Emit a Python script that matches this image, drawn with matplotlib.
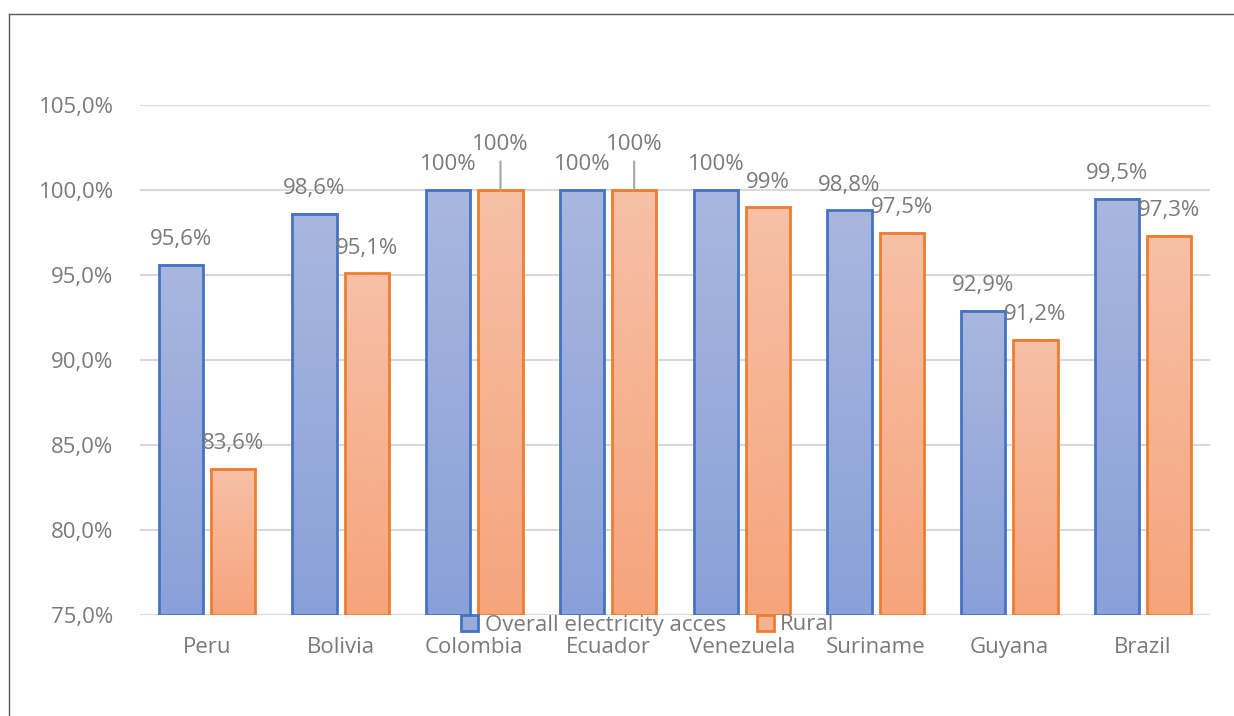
import numpy as np
import matplotlib.pyplot as plt
from matplotlib.colors import LinearSegmentedColormap
from matplotlib.patches import Patch
from matplotlib.lines import Line2D

countries = ['Peru', 'Bolivia', 'Colombia', 'Ecuador', 'Venezuela', 'Suriname', 'Guyana', 'Brazil']
overall = [95.6, 98.6, 100, 100, 100, 98.8, 92.9, 99.5]
rural = [83.6, 95.1, 100, 100, 99, 97.5, 91.2, 97.3]
overall_labels = ['95,6%', '98,6%', '100%', '100%', '100%', '98,8%', '92,9%', '99,5%']
rural_labels = ['83,6%', '95,1%', '100%', '100%', '99%', '97,5%', '91,2%', '97,3%']
yticks = [75, 80, 85, 90, 95, 100, 105]
ytick_labels = ['75,0%', '80,0%', '85,0%', '90,0%', '95,0%', '100,0%', '105,0%']

plt.rcParams['font.family'] = ['Open Sans', 'DejaVu Sans']
gray = '#7a7a7a'
fs = 16

fig = plt.figure(figsize=(12.34, 7.16), dpi=100)
ax = fig.add_axes([140/1234, 101/716, 1070/1234, 510/716])

blue_cmap = LinearSegmentedColormap.from_list('b', ['#8aa0d8', '#a9b7df'])
orange_cmap = LinearSegmentedColormap.from_list('o', ['#f6a47c', '#f6c0a7'])
grad = np.linspace(0, 1, 200).reshape(-1, 1)

x = np.arange(len(countries))
w = 0.33
off = 0.195
b1 = ax.bar(x - off, np.array(overall) - 75, w, bottom=75, facecolor='none',
            edgecolor='#4472C4', lw=2, zorder=3)
b2 = ax.bar(x + off, np.array(rural) - 75, w, bottom=75, facecolor='none',
            edgecolor='#ED7D31', lw=2, zorder=3)

for bars, cmap in [(b1, blue_cmap), (b2, orange_cmap)]:
    for r in bars:
        x0, y0, bw, bh = r.get_x(), r.get_y(), r.get_width(), r.get_height()
        ax.imshow(grad, extent=[x0, x0 + bw, y0, y0 + bh], origin='lower',
                  cmap=cmap, aspect='auto', zorder=2)

# data labels
for i in range(len(countries)):
    ax.annotate(overall_labels[i], (x[i] - off, overall[i]), xytext=(0, 25),
                textcoords='offset pixels', ha='center', va='center',
                color=gray, fontsize=fs, zorder=4)
    if countries[i] in ('Colombia', 'Ecuador'):
        ax.annotate(rural_labels[i], (x[i] + off, rural[i]), xytext=(0, 46),
                    textcoords='offset pixels', ha='center', va='center',
                    color=gray, fontsize=fs, zorder=4,
                    arrowprops=dict(arrowstyle='-', color='#a6a6a6', lw=1.5,
                                    shrinkA=3, shrinkB=0))
    else:
        ax.annotate(rural_labels[i], (x[i] + off, rural[i]), xytext=(0, 25),
                    textcoords='offset pixels', ha='center', va='center',
                    color=gray, fontsize=fs, zorder=4)

ax.set_xlim(-0.5, len(countries) - 0.5)
ax.set_ylim(75, 105)
ax.set_yticks(yticks, ytick_labels)
ax.set_xticks(x, countries)
ax.tick_params(axis='y', length=0, pad=19, labelsize=fs, labelcolor=gray)
ax.tick_params(axis='x', length=0, pad=16, labelsize=fs, labelcolor=gray)
ax.yaxis.grid(True, color='#d9d9d9', lw=1.5, zorder=0)
ax.set_axisbelow(True)
for s in ax.spines.values():
    s.set_visible(False)

handles = [Patch(facecolor='#99abdb', edgecolor='#4472C4', lw=2),
           Patch(facecolor='#f6b290', edgecolor='#ED7D31', lw=2)]
fig.legend(handles, ['Overall electricity acces', 'Rural'], loc='center',
           bbox_to_anchor=(648/1234, 1 - 625/716), ncol=2, frameon=False,
           fontsize=fs, labelcolor=gray, handlelength=0.75, handleheight=0.75,
           handletextpad=0.3, columnspacing=1.4, borderpad=0)

# chart border (left and top visible)
fig.add_artist(Line2D([9/1234, 9/1234], [0, 1 - 13.5/716], transform=fig.transFigure,
                      color='#595959', lw=1))
fig.add_artist(Line2D([9/1234, 1], [1 - 13.5/716, 1 - 13.5/716], transform=fig.transFigure,
                      color='#595959', lw=1))

fig.savefig('out.png', dpi=100)
